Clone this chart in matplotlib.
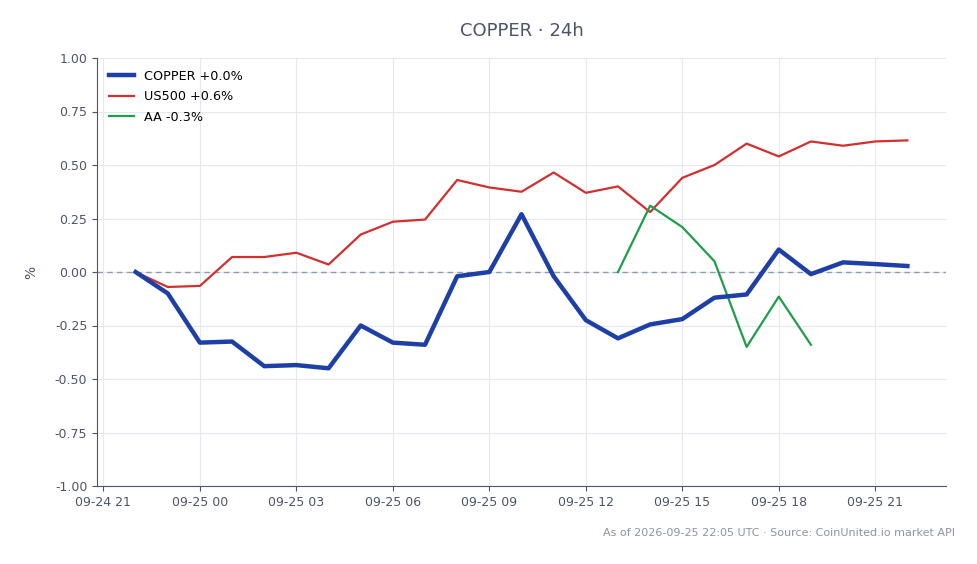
import matplotlib
matplotlib.use("Agg")
import matplotlib.pyplot as plt
import matplotlib.dates as mdates
import pandas as pd

times = pd.date_range("2026-09-24 22:00", "2026-09-25 22:00", freq="h")
copper = [0.0, -0.10, -0.33, -0.325, -0.44, -0.435, -0.45, -0.25, -0.33, -0.34,
          -0.02, 0.0, 0.27, -0.02, -0.225, -0.31, -0.245, -0.22, -0.12, -0.105,
          0.105, -0.01, 0.045, 0.037, 0.028]
us500 = [0.0, -0.07, -0.065, 0.07, 0.07, 0.09, 0.035, 0.175, 0.235, 0.245,
         0.43, 0.395, 0.375, 0.465, 0.37, 0.40, 0.28, 0.44, 0.50, 0.60,
         0.54, 0.61, 0.59, 0.61, 0.615]
aa_times = pd.date_range("2026-09-25 13:00", "2026-09-25 19:00", freq="h")
aa = [0.0, 0.31, 0.21, 0.05, -0.35, -0.115, -0.34]

labels = ["COPPER +0.0%", "US500 +0.6%", "AA -0.3%"]
title = "COPPER · 24h"
footer = "As of 2026-09-25 22:05 UTC · Source: CoinUnited.io market API"

fig = plt.figure(figsize=(9.78, 5.64), dpi=100)
ax = fig.add_axes([97/978, 1-486/564, (946-97)/978, (486-58)/564])

ax.plot(times, copper, color="#1e40a6", lw=3.2, label=labels[0], zorder=4)
ax.plot(times, us500, color="#d32f2f", lw=1.6, label=labels[1], zorder=3)
ax.plot(aa_times, aa, color="#1f9e4a", lw=1.6, label=labels[2], zorder=3)
ax.axhline(0, color="#8f9bb3", lw=1, ls=(0, (4, 3)), zorder=2)

ax.set_ylim(-1, 1)
ax.set_yticks([-1, -0.75, -0.5, -0.25, 0, 0.25, 0.5, 0.75, 1.0])
ax.yaxis.set_major_formatter(matplotlib.ticker.FormatStrFormatter("%.2f"))
ax.xaxis.set_major_locator(mdates.HourLocator(byhour=[0, 3, 6, 9, 12, 15, 18, 21]))
ax.xaxis.set_major_formatter(mdates.DateFormatter("%m-%d %H"))
ax.grid(True, color="#e5e8ef", lw=0.8)
ax.set_axisbelow(True)
for s in ["top", "right"]:
    ax.spines[s].set_visible(False)
for s in ["left", "bottom"]:
    ax.spines[s].set_color("#4a5568")
ax.tick_params(colors="#4a5568", labelsize=9)
ax.set_ylabel("%", color="#4a5568", fontsize=10, labelpad=12)
ax.set_title(title, color="#4a5568", fontsize=13, pad=16)
leg = ax.legend(loc="upper left", frameon=False, fontsize=9.2, labelspacing=0.6)
fig.text(955/978, 1-533/564, footer, ha="right", va="center", fontsize=8, color="#8a94a6")

fig.savefig("out.png", dpi=100)
